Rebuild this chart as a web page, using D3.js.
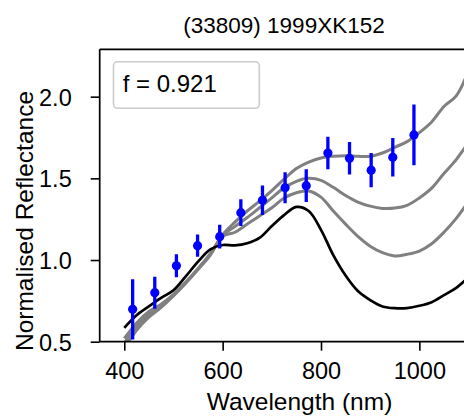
<!DOCTYPE html>
<html>
<head>
<meta charset="utf-8">
<script src="https://cdn.jsdelivr.net/npm/d3@7"></script>
<style>
  html, body { margin: 0; padding: 0; background: #fff; }
  svg { display: block; font-family: "Liberation Sans", Arial, Helvetica, sans-serif; }
</style>
</head>
<body>
<svg id="chart" width="464" height="417"></svg>
<script>
// ---- data ----
const title = "(33809) 1999XK152";
const xLabel = "Wavelength (nm)";
const yLabel = "Normalised Reflectance";
const legendText = "f = 0.921";
const xTicks = [400, 600, 800, 1000];
const yTicks = [0.5, 1.0, 1.5, 2.0];

const modelWl = [400, 425, 450, 475, 500, 525, 550, 575, 600, 625, 650, 675, 700, 725,
                 750, 775, 800, 825, 850, 875, 900, 925, 950, 975, 1000, 1025, 1050, 1075, 1100];
const blackModel = [0.585, 0.662, 0.716, 0.768, 0.815, 0.900, 0.990, 1.065, 1.092, 1.090, 1.103, 1.135, 1.208, 1.275,
                    1.325, 1.300, 1.185, 1.030, 0.905, 0.810, 0.755, 0.716, 0.705, 0.706, 0.720, 0.742, 0.785, 0.830, 0.895];
const grayTop = [0.460, 0.570, 0.650, 0.710, 0.780, 0.858, 0.942, 1.030, 1.155, 1.232, 1.300, 1.360, 1.425, 1.495,
                 1.560, 1.600, 1.625, 1.635, 1.638, 1.635, 1.635, 1.655, 1.690, 1.725, 1.780, 1.845, 1.940, 2.005, 2.160];
const grayMid = [0.490, 0.595, 0.667, 0.720, 0.785, 0.862, 0.945, 1.035, 1.150, 1.205, 1.260, 1.320, 1.380, 1.442,
                 1.482, 1.500, 1.488, 1.445, 1.395, 1.355, 1.330, 1.316, 1.318, 1.335, 1.380, 1.440, 1.530, 1.615, 1.720];
const grayLow = [0.520, 0.615, 0.685, 0.730, 0.790, 0.866, 0.948, 1.040, 1.145, 1.170, 1.220, 1.270, 1.320, 1.380,
                 1.412, 1.423, 1.385, 1.300, 1.220, 1.145, 1.085, 1.045, 1.025, 1.035, 1.055, 1.100, 1.170, 1.255, 1.360];

const obsWl  = [417, 462, 506, 549, 594, 637, 681, 727, 770, 814, 858, 902, 946, 989];
const obsVal = [0.698, 0.800, 0.965, 1.088, 1.143, 1.290, 1.366, 1.443, 1.455, 1.655, 1.623, 1.550, 1.629, 1.766];
const obsErr = [0.185, 0.098, 0.071, 0.068, 0.073, 0.082, 0.090, 0.095, 0.100, 0.099, 0.100, 0.105, 0.118, 0.186];

// ---- layout ----
const svg = d3.select("#chart");
const L = 99.7, R = 500, T = 49.3, B = 341.7;
const x = d3.scaleLinear().domain([350, 1164]).range([L, R]);
const y = d3.scaleLinear().domain([0.5, 2.29]).range([B, T]);

svg.append("defs").append("clipPath").attr("id", "plotclip")
  .append("rect").attr("x", L).attr("y", T).attr("width", R - L).attr("height", B - T);

const plot = svg.append("g").attr("clip-path", "url(#plotclip)");

const line = d3.line()
  .x(d => x(d[0])).y(d => y(d[1]))
  .curve(d3.curveCatmullRom.alpha(0.5));

[grayLow, grayMid, grayTop].forEach(s => {
  plot.append("path")
    .datum(modelWl.map((w, i) => [w, s[i]]))
    .attr("d", line)
    .attr("fill", "none")
    .attr("stroke", "#808080")
    .attr("stroke-width", 3)
    .attr("stroke-linejoin", "round");
});
plot.append("path")
  .datum(modelWl.map((w, i) => [w, blackModel[i]]))
  .attr("d", line)
  .attr("fill", "none")
  .attr("stroke", "#000")
  .attr("stroke-width", 2.7)
  .attr("stroke-linejoin", "round");

// error bars
const obs = obsWl.map((w, i) => ({ w, v: obsVal[i], e: obsErr[i] }));
plot.selectAll("line.err").data(obs).enter().append("line")
  .attr("class", "err")
  .attr("x1", d => x(d.w)).attr("x2", d => x(d.w))
  .attr("y1", d => y(d.v - d.e)).attr("y2", d => y(d.v + d.e))
  .attr("stroke", "#0000ff").attr("stroke-width", 3.3);
plot.selectAll("circle.pt").data(obs).enter().append("circle")
  .attr("class", "pt")
  .attr("cx", d => x(d.w)).attr("cy", d => y(d.v)).attr("r", 4.6)
  .attr("fill", "#0000ff");

// axes
const xAxis = d3.axisBottom(x).tickValues(xTicks).tickSize(9).tickPadding(5).tickFormat(d3.format("d"));
const yAxis = d3.axisLeft(y).tickValues(yTicks).tickSize(9).tickPadding(5).tickFormat(d3.format(".1f"));

const gx = svg.append("g").attr("transform", `translate(0,${B})`).call(xAxis);
const gy = svg.append("g").attr("transform", `translate(${L},0)`).call(yAxis);
[gx, gy].forEach(g => {
  g.select(".domain").remove();
  g.selectAll(".tick line").attr("stroke", "#000").attr("stroke-width", 1.6);
  g.selectAll(".tick text").attr("fill", "#000").attr("font-size", 23.5)
    .attr("font-family", '"Liberation Sans", Arial, sans-serif');
});
gx.selectAll(".tick text").attr("dy", null).attr("y", 37.6);
gy.selectAll(".tick text").attr("dy", null).attr("x", -28).attr("y", 8.5);

// spines
const spine = svg.append("g").attr("stroke", "#000").attr("stroke-width", 1.7).attr("fill", "none");
spine.append("line").attr("x1", L).attr("x2", L).attr("y1", T).attr("y2", B);
spine.append("line").attr("x1", L).attr("x2", R).attr("y1", B).attr("y2", B);
spine.append("line").attr("x1", L).attr("x2", R).attr("y1", T).attr("y2", T);

// legend box
svg.append("rect")
  .attr("x", 113.5).attr("y", 61.8).attr("width", 145.8).attr("height", 46.5)
  .attr("rx", 4).attr("ry", 4)
  .attr("fill", "#fff").attr("fill-opacity", 0.8)
  .attr("stroke", "#cccccc").attr("stroke-width", 1.6);
svg.append("text")
  .attr("x", 122.7).attr("y", 91.7)
  .attr("font-size", 24).attr("fill", "#000")
  .text(legendText);

// title and labels
svg.append("text")
  .attr("x", 284).attr("y", 33.3).attr("text-anchor", "middle")
  .attr("font-size", 22.5).attr("fill", "#000")
  .text(title);
svg.append("text")
  .attr("x", 299.5).attr("y", 409.5).attr("text-anchor", "middle")
  .attr("font-size", 24.5).attr("fill", "#000")
  .text(xLabel);
svg.append("text")
  .attr("transform", "translate(33.3,221) rotate(-90)")
  .attr("text-anchor", "middle")
  .attr("font-size", 24.5).attr("fill", "#000")
  .text(yLabel);
</script>
</body>
</html>
